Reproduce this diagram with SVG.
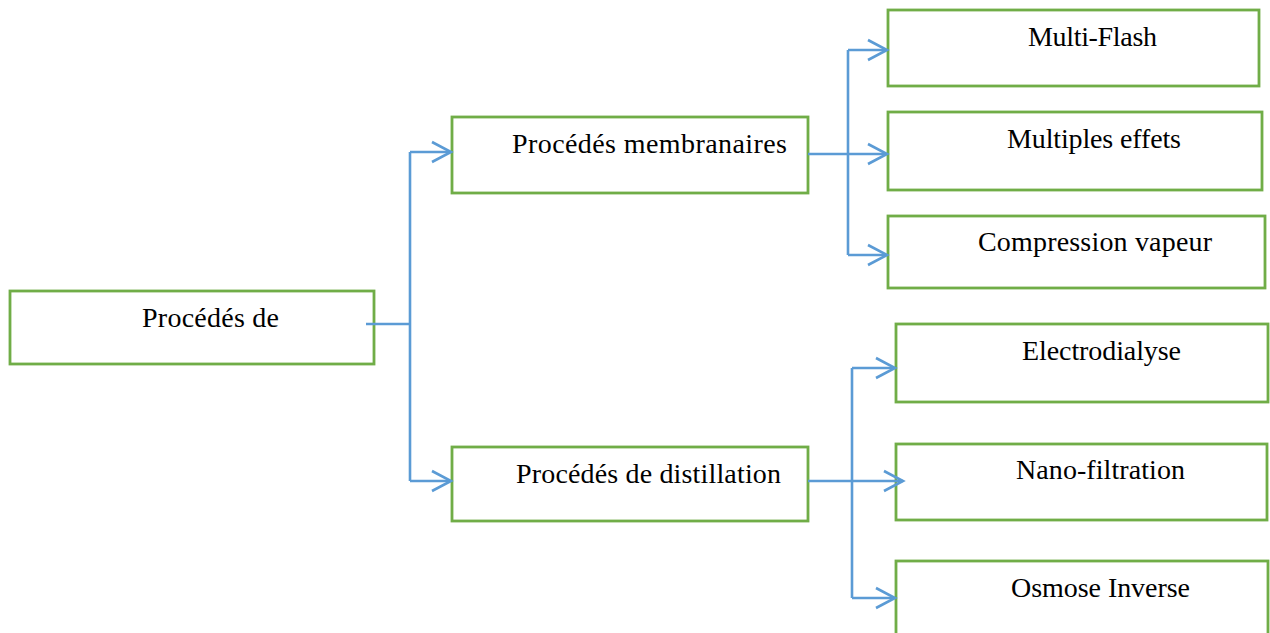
<svg xmlns="http://www.w3.org/2000/svg" width="1270" height="633" viewBox="0 0 1270 633">
<style>
.box{fill:#fff;stroke:#70AD47;stroke-width:2.8}
.lbl{font-family:"Liberation Serif","Times New Roman",serif;font-size:28px;fill:#000}
.con{fill:none;stroke:#5B9BD5;stroke-width:2.6}
</style>
<defs>
<marker id="arr" markerUnits="userSpaceOnUse" markerWidth="26" markerHeight="26" viewBox="-22 -13 26 26" refX="0" refY="0" orient="auto" overflow="visible">
<path d="M-19,-10 L0,0 L-19,10" fill="none" stroke="#5B9BD5" stroke-width="2.6"/>
</marker>
</defs>
<rect width="1270" height="633" fill="#fff"/>
<g id="n-root"><rect class="box" x="10" y="291" width="364" height="73"/><text class="lbl" x="142" y="327" textLength="137">Procédés de</text></g>
<g id="n-membr"><rect class="box" x="452" y="117" width="356" height="76"/><text class="lbl" x="512" y="153" textLength="275">Procédés membranaires</text></g>
<g id="n-distil"><rect class="box" x="452" y="447" width="356" height="74"/><text class="lbl" x="516" y="483" textLength="265">Procédés de distillation</text></g>
<g id="n-flash"><rect class="box" x="888" y="10" width="371" height="76"/><text class="lbl" x="1028" y="46" textLength="129">Multi-Flash</text></g>
<g id="n-effets"><rect class="box" x="888" y="112" width="374" height="78"/><text class="lbl" x="1007" y="148" textLength="174">Multiples effets</text></g>
<g id="n-compr"><rect class="box" x="888" y="216" width="377" height="72"/><text class="lbl" x="978" y="251" textLength="234">Compression vapeur</text></g>
<g id="n-electro"><rect class="box" x="896" y="324" width="372" height="78"/><text class="lbl" x="1022" y="360" textLength="159">Electrodialyse</text></g>
<g id="n-nano"><rect class="box" x="896" y="444" width="371" height="76"/><text class="lbl" x="1016" y="479" textLength="169">Nano-filtration</text></g>
<g id="n-osmose"><rect class="box" x="896" y="561" width="372" height="80"/><text class="lbl" x="1011" y="597" textLength="179">Osmose Inverse</text></g>
<g id="connectors">
<path class="con" d="M366,324 H410 M410,152 V481"/>
<path class="con" d="M410,152 H451" marker-end="url(#arr)"/>
<path class="con" d="M410,481 H451" marker-end="url(#arr)"/>
<path class="con" d="M808,154 H848 M848,50 V255"/>
<path class="con" d="M848,50 H887" marker-end="url(#arr)"/>
<path class="con" d="M848,154 H887" marker-end="url(#arr)"/>
<path class="con" d="M848,255 H887" marker-end="url(#arr)"/>
<path class="con" d="M808,481 H852 M852,368 V598"/>
<path class="con" d="M852,368 H895" marker-end="url(#arr)"/>
<path class="con" d="M852,481 H903" marker-end="url(#arr)"/>
<path class="con" d="M852,598 H895" marker-end="url(#arr)"/>
</g>
</svg>
